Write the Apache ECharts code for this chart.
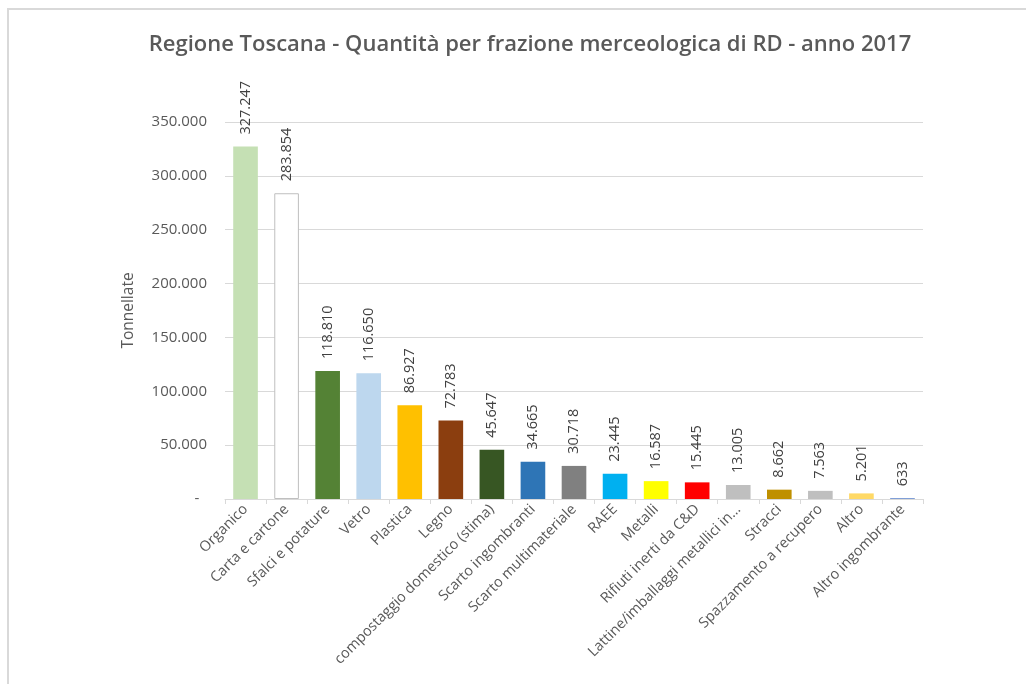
<!DOCTYPE html>
<html>
<head>
<meta charset="utf-8">
<script src="https://cdn.jsdelivr.net/npm/echarts@6/dist/echarts.min.js"></script>
<style>
html,body{margin:0;padding:0;background:#fff;}
#frame{position:absolute;left:7px;top:8px;width:1030px;height:690px;border-top:2px solid #d9d9d9;border-left:2px solid #d9d9d9;}
#chart{position:absolute;left:0;top:0;width:1026px;height:684px;}
</style>
</head>
<body>
<div id="frame"></div>
<div id="chart"></div>
<script>
const categories = ["Organico","Carta e cartone","Sfalci e potature","Vetro","Plastica","Legno","compostaggio domestico (stima)","Scarto ingombranti","Scarto multimateriale","RAEE","Metalli","Rifiuti inerti da C&D","Lattine/imballaggi metallici in…","Stracci","Spazzamento a recupero","Altro","Altro ingombrante"];
const values = [327247,283854,118810,116650,86927,72783,45647,34665,30718,23445,16587,15445,13005,8662,7563,5201,633];
const colors = ["#C5E0B4","#FFFFFF","#548235","#BDD7EE","#FFC000","#8B3E0F","#375623","#2E75B6","#808080","#00B0F0","#FFFF00","#FF0000","#BFBFBF","#BF9000","#BFBFBF","#FFD966","#4472C4"];
const yTicks = [0,50000,100000,150000,200000,250000,300000,350000];

function fmt(v){
  if(v===0) return "-";
  return String(v).replace(/\B(?=(\d{3})+(?!\d))/g,".");
}
const font = "'Open Sans', sans-serif";
const chart = echarts.init(document.getElementById('chart'));
chart.setOption({
  animation:false,
  backgroundColor:'transparent',
  title:{
    text:'Regione Toscana - Quantità per frazione merceologica di RD - anno 2017',
    left:525, top:29, textAlign:'center',
    textStyle:{fontFamily:font,fontSize:22,fontWeight:600,color:'#595959'}
  },
  grid:{left:225,right:103,top:122,bottom:185,containLabel:false},
  xAxis:{
    type:'category',
    data:categories,
    axisLine:{lineStyle:{color:'#D9D9D9',width:1}},
    axisTick:{show:true,length:5,lineStyle:{color:'#D9D9D9'}},
    axisLabel:{rotate:45,interval:0,margin:8,fontFamily:font,fontSize:14.5,color:'#595959'}
  },
  yAxis:{
    type:'value',
    min:yTicks[0], max:yTicks[yTicks.length-1], interval:50000,
    name:'Tonnellate', nameLocation:'middle', nameGap:88, nameRotate:90,
    nameTextStyle:{fontFamily:font,fontSize:15.5,color:'#595959'},
    axisLine:{show:false}, axisTick:{show:false},
    splitLine:{lineStyle:{color:'#D9D9D9',width:1}},
    axisLabel:{margin:18,fontFamily:font,fontSize:15,color:'#595959',
      formatter:function(v){return v===0?'-  ':fmt(v);}}
  },
  series:[{
    type:'bar',
    data:values.map((v,i)=>({value:v,itemStyle:{color:colors[i],borderColor:i===1?'#BFBFBF':colors[i],borderWidth:i===1?1:0}})),
    barCategoryGap:'40%',
    label:{show:true,position:'top',rotate:90,align:'left',verticalAlign:'middle',distance:12,
      fontFamily:font,fontSize:14.5,color:'#404040',formatter:p=>fmt(p.value)}
  }]
});
</script>
</body>
</html>
